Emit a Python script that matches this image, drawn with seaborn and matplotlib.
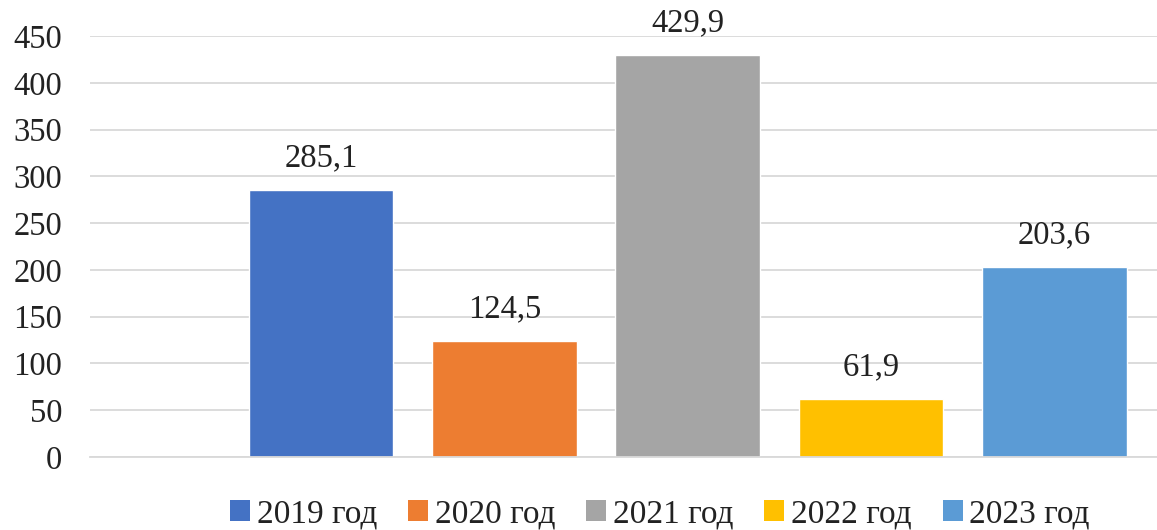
import matplotlib
matplotlib.use("Agg")
import matplotlib.pyplot as plt
from matplotlib.patches import Patch
import seaborn as sns
import pandas as pd

years = ["2019 год", "2020 год", "2021 год", "2022 год", "2023 год"]
values = [285.1, 124.5, 429.9, 61.9, 203.6]
colors = ["#4472C4", "#ED7D31", "#A5A5A5", "#FFC000", "#5B9BD5"]
y_ticks = [0, 50, 100, 150, 200, 250, 300, 350, 400, 450]

sns.set_theme(style="white")
plt.rcParams["font.family"] = ["Liberation Serif", "DejaVu Serif"]

df = pd.DataFrame({"year": years, "value": values})

fig = plt.figure(figsize=(11.57, 5.30), dpi=100)
ax = fig.add_axes([90 / 1157, 73 / 530, 1 - 90 / 1157, (457 - 36) / 530])

sns.barplot(data=df, x="year", y="value", hue="year", palette=colors,
            width=0.79, saturation=1, legend=False, ax=ax)

ax.set_xlim(-1.26, 4.56)
ax.set_ylim(0, 450)
ax.set_yticks(y_ticks)
ax.set_yticklabels([str(t) for t in y_ticks], fontsize=23.5, color="#222222")
ax.set_xticks([])
ax.set_xlabel("")
ax.set_ylabel("")
ax.tick_params(axis="y", length=0, pad=20)
ax.grid(axis="y", color="#d9d9d9", linewidth=1.3)
ax.set_axisbelow(True)
for side in ["top", "right", "left"]:
    ax.spines[side].set_visible(False)
ax.spines["bottom"].set_color("#d9d9d9")
ax.spines["bottom"].set_linewidth(1.3)

for i, v in enumerate(values):
    ax.annotate(f"{v:.1f}".replace(".", ","), xy=(i, v), xytext=(0, 12),
                textcoords="offset points", ha="center", va="bottom",
                fontsize=23.5, color="#222222")

handles = [Patch(facecolor=c, edgecolor="none") for c in colors]
fig.legend(handles, years, loc="center", bbox_to_anchor=(660 / 1157, 1 - 514 / 530),
           ncol=5, frameon=False, fontsize=24, handlelength=0.6, handleheight=0.6,
           handletextpad=0.2, columnspacing=0.93, labelcolor="#222222")

fig.savefig("out.png", dpi=100)
